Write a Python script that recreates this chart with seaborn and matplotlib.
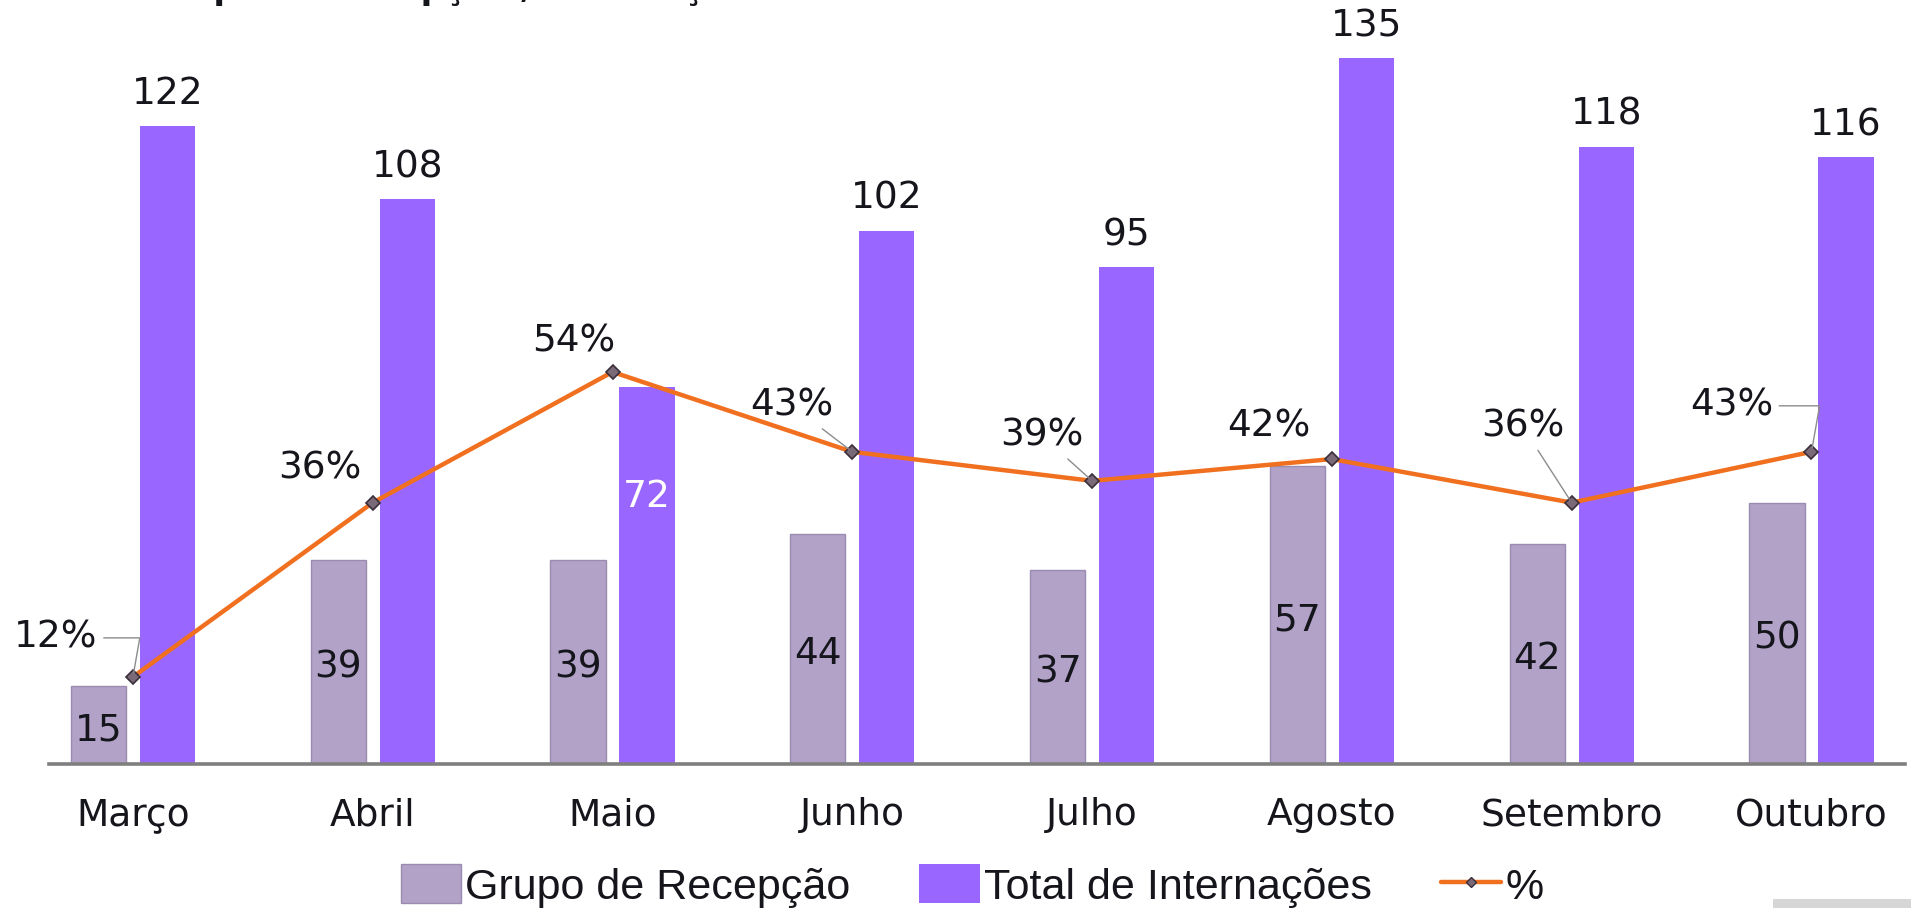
import numpy as np
import pandas as pd
import seaborn as sns
import matplotlib.pyplot as plt
from matplotlib.patches import Patch, Rectangle
from matplotlib.lines import Line2D

# Monthly data
meses = ["Março", "Abril", "Maio", "Junho", "Julho", "Agosto", "Setembro", "Outubro"]
grupo_recepcao = [15, 39, 39, 44, 37, 57, 42, 50]
total_internacoes = [122, 108, 72, 102, 95, 135, 118, 116]
percentual = [12, 36, 54, 43, 39, 42, 36, 43]

serie_grupo = "Grupo de Recepção"
serie_total = "Total de Internações"

cor_grupo = "#B2A2C8"
cor_total = "#9966FF"
cor_linha = "#F07020"
cor_texto = "#15151C"

sns.set_theme(style="white")
plt.rcParams["font.family"] = ["DejaVu Sans"]

df = pd.DataFrame({
    "mes": meses * 2,
    "valor": grupo_recepcao + total_internacoes,
    "serie": [serie_grupo] * len(meses) + [serie_total] * len(meses),
})

fig = plt.figure(figsize=(19.11, 9.08), dpi=100)
ax = fig.add_axes([49 / 1911, 1 - 764 / 908, (1905 - 49) / 1911, (764 - 30) / 908])

sns.barplot(data=df, x="mes", y="valor", hue="serie", order=meses,
            hue_order=[serie_grupo, serie_total],
            palette=[cor_grupo, cor_total], width=0.576, gap=0.2,
            saturation=1, legend=False, ax=ax, errorbar=None)

# thin outline on the lighter bars
for bar in ax.containers[0]:
    bar.set_edgecolor("#9A8CB0")
    bar.set_linewidth(1.0)
for bar in ax.containers[1]:
    bar.set_edgecolor("none")

px_per_unit = 5.23
ax.set_xlim(-0.35, 7.39)
ax.set_ylim(0, (764 - 30) / px_per_unit)

# line on a secondary scale
ax2 = ax.twinx()
px_per_pct = 7.26
ax2.set_ylim(0, (764 - 30) / px_per_pct)
pos = np.arange(len(meses))
sns.lineplot(x=pos, y=percentual, ax=ax2, color=cor_linha, lw=3.2,
             marker="D", markersize=7, markerfacecolor="#7A6A78",
             markeredgecolor="#3A2E3A", markeredgewidth=1.2, zorder=5)
ax2.set_xlim(ax.get_xlim())

for a in (ax, ax2):
    a.set_xlabel("")
    a.set_ylabel("")
    a.set_yticks([])
    for s in a.spines.values():
        s.set_visible(False)
ax.spines["bottom"].set_visible(True)
ax.spines["bottom"].set_color("#7F7F7F")
ax.spines["bottom"].set_linewidth(2.6)

ax.tick_params(axis="x", length=0, pad=24, labelsize=27, labelcolor=cor_texto)
ax2.tick_params(axis="x", length=0)

# value labels
off = 0.144
for i, v in enumerate(total_internacoes):
    if v == 72:
        ax.text(i + off, v * 0.71, str(v), ha="center", va="center",
                fontsize=27, color="white")
    else:
        ax.annotate(str(v), (i + off, v), xytext=(0, 23), textcoords="offset points",
                    ha="center", va="center", fontsize=27, color=cor_texto)
for i, v in enumerate(grupo_recepcao):
    ax.text(i - off, v / 2 - 1, str(v), ha="center", va="center",
            fontsize=27, color=cor_texto)

# percentage labels with leader lines
deslocamentos = [(-77, 39), (-53, 34), (-39, 30), (-60, 46),
                 (-50, 45), (-63, 33), (-49, 76), (-80, 46)]
guias = ["angulo", None, None, "reta", "reta", None, "reta", "angulo"]
for i, (p, (dx, dy), g) in enumerate(zip(percentual, deslocamentos, guias)):
    props = None
    if g == "reta":
        props = dict(arrowstyle="-", color="#8C8C8C", lw=1.0,
                     shrinkA=2, shrinkB=3)
    elif g == "angulo":
        props = dict(arrowstyle="-", color="#8C8C8C", lw=1.0,
                     shrinkA=2, shrinkB=3,
                     connectionstyle="angle,angleA=0,angleB=80,rad=0")
    ax2.annotate(f"{p}%", (i, p), xytext=(dx * 0.72, dy * 0.72),
                 textcoords="offset points", ha="center", va="center",
                 fontsize=27, color=cor_texto, arrowprops=props, zorder=6)

# heading sitting just above the top edge (only its descenders show)
fig.text(146 / 1911, 1 + 1 / 908, "Grupo de Recepção / Internações",
         ha="left", va="baseline", fontsize=24, fontweight="bold",
         color=cor_texto)

# legend
handles = [
    Patch(facecolor=cor_grupo, edgecolor="#9A8CB0"),
    Patch(facecolor=cor_total, edgecolor="none"),
    Line2D([0], [0], color=cor_linha, lw=3.2, marker="D", markersize=5,
           markerfacecolor="#7A6A78", markeredgecolor="#3A2E3A"),
]
fig.legend(handles, [serie_grupo, serie_total, "%"], loc="center",
           bbox_to_anchor=(972 / 1911, 1 - 886 / 908), ncol=3, frameon=False,
           prop={"family": ["Liberation Sans", "DejaVu Sans"], "size": 31},
           handlelength=1.4, handleheight=1.0, handletextpad=0.1,
           columnspacing=1.6, labelcolor=cor_texto)

fig.patches.append(Rectangle((1773 / 1911, 0), 138 / 1911, 9 / 908,
                             transform=fig.transFigure, facecolor="#D6D6D6",
                             edgecolor="none"))

fig.savefig("out.png", dpi=100)
